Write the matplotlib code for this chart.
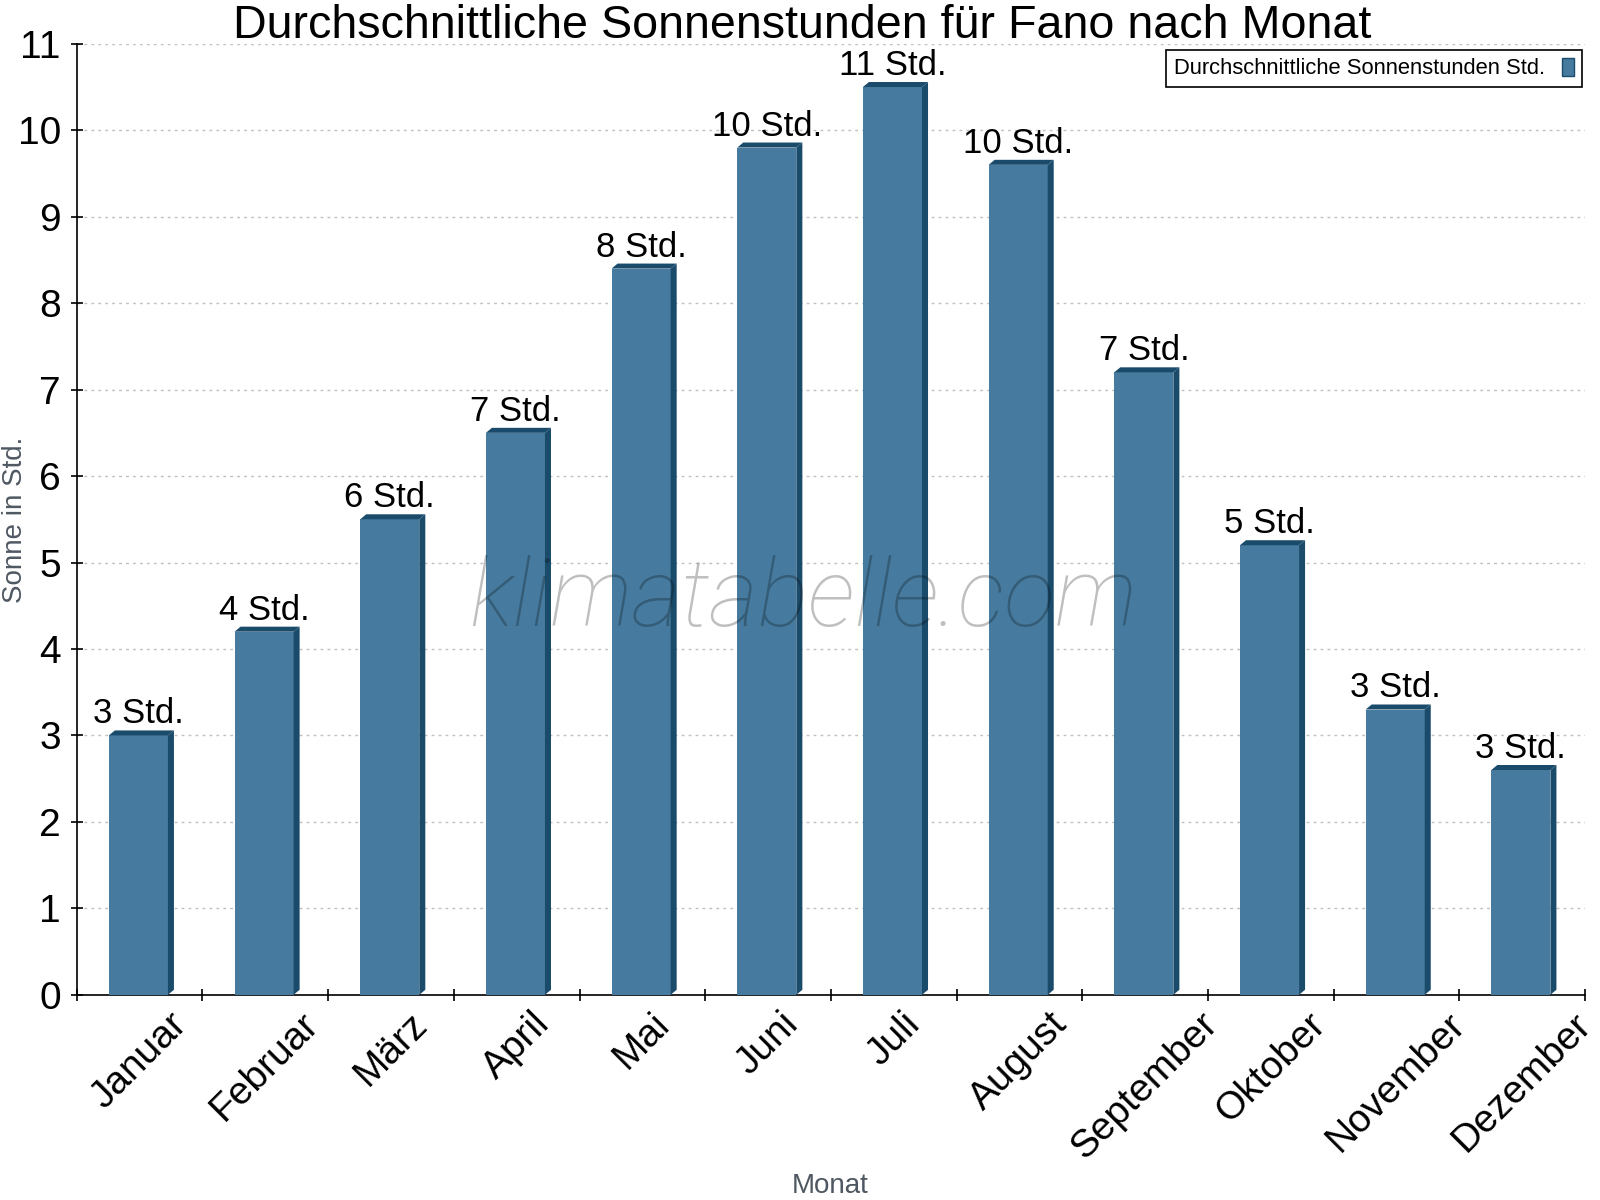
import numpy as np
import matplotlib
matplotlib.use('Agg')
from matplotlib import pyplot as plt
from matplotlib.patches import Polygon, Rectangle

months = ['Januar', 'Februar', 'März', 'April', 'Mai', 'Juni', 'Juli',
          'August', 'September', 'Oktober', 'November', 'Dezember']
sun_hours = [3.0, 4.2, 5.5, 6.5, 8.4, 9.8, 10.5, 9.6, 7.2, 5.2, 3.3, 2.6]

front_col = '#467b9f'
side_col = '#1b4b6b'

plt.rcParams['font.family'] = ['Liberation Sans', 'DejaVu Sans']

fig = plt.figure(figsize=(16, 12), dpi=100)
ax = fig.add_axes([0.048, 0.171, 0.9426, 0.7925])

x = np.arange(len(months))
width = 0.47
dx = 0.048   # depth of the fake 3d side (category units)
dy = 0.058   # depth of the fake 3d top (value units)

ax.bar(x - 0.01, sun_hours, width=width, color=front_col, zorder=3,
       label='Durchschnittliche Sonnenstunden Std.')
for xi, h in zip(x, sun_hours):
    x0 = xi - 0.01 - width / 2
    x1 = xi - 0.01 + width / 2
    side = Polygon([(x1, 0), (x1 + dx, dy), (x1 + dx, h + dy), (x1, h)],
                   closed=True, color=side_col, zorder=3, lw=0)
    top = Polygon([(x0, h), (x0 + dx, h + dy), (x1 + dx, h + dy), (x1, h)],
                  closed=True, color=side_col, zorder=3, lw=0)
    ax.add_patch(side)
    ax.add_patch(top)
    ax.text(xi - 0.01, h + dy + 0.0, f'{int(h + 0.5)} Std.', ha='center',
            va='bottom', fontsize=25, zorder=5)

ax.set_xlim(-0.5, len(months) - 0.5)
ax.set_ylim(0, 11)
ax.set_yticks(range(0, 12))
ax.set_xticks(np.arange(-0.5, len(months)), [''] * (len(months) + 1))
ax.set_xticks(x, months, minor=True)
ax.tick_params(axis='x', which='major', direction='inout', length=8, width=1.2)
ax.tick_params(axis='x', which='minor', length=0, labelsize=28, pad=8,
               labelrotation=45)
ax.tick_params(axis='y', direction='inout', length=9, width=1.2,
               labelsize=28, pad=7)

ax.grid(axis='y', linestyle=(0, (2, 3)), color='#c0c0c0', lw=1, zorder=0)
ax.set_axisbelow(True)
for s in ['top', 'right']:
    ax.spines[s].set_visible(False)
for s in ['left', 'bottom']:
    ax.spines[s].set_linewidth(1.2)

fig.text(0.519, 0.006, 'Monat', ha='center', va='baseline', fontsize=20,
         color='#4f5862')
fig.text(0.0094, 0.567, 'Sonne in Std.', ha='center', va='center',
         rotation=90, fontsize=20, color='#4f5862')

fig.text(0.5015, 0.968, 'Durchschnittliche Sonnenstunden für Fano nach Monat',
         ha='center', va='baseline', fontsize=33.6)

fig.text(0.502, 0.5, 'klimatabelle.com', ha='center', va='center',
         fontsize=68, family=['Roboto', 'DejaVu Sans'], weight='light',
         style='italic', color='black', alpha=0.25, zorder=10)

handle = Rectangle((0, 0), 1, 1, facecolor=front_col, edgecolor=side_col)
leg = ax.legend([handle], ['Durchschnittliche Sonnenstunden Std.'],
                loc='upper right', bbox_to_anchor=(0.998, 0.993),
                fontsize=15.8, markerfirst=False, fancybox=False,
                framealpha=1, edgecolor='black', handlelength=0.55,
                handleheight=0.85, borderaxespad=0, borderpad=0.35)
leg.get_frame().set_linewidth(1.2)

fig.savefig('out.png', dpi=100)
